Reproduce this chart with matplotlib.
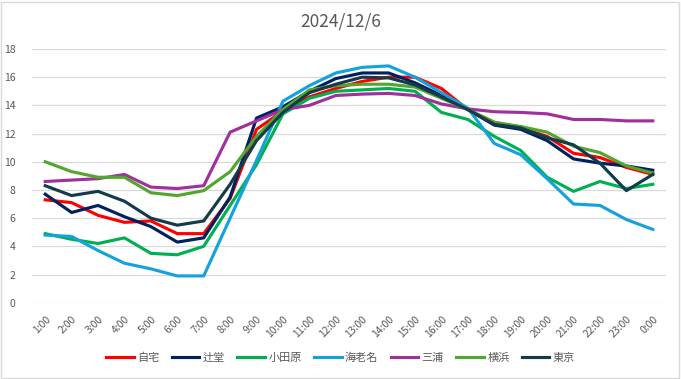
import matplotlib
matplotlib.use("Agg")
import matplotlib.pyplot as plt
from matplotlib.patches import Rectangle

plt.rcParams['font.family'] = ['Noto Sans CJK JP', 'DejaVu Sans']

hours = ["1:00", "2:00", "3:00", "4:00", "5:00", "6:00", "7:00", "8:00",
         "9:00", "10:00", "11:00", "12:00", "13:00", "14:00", "15:00", "16:00",
         "17:00", "18:00", "19:00", "20:00", "21:00", "22:00", "23:00", "0:00"]

jitaku = [7.3, 7.1, 6.2, 5.7, 5.8, 4.9, 4.9, 7.4, 12.3, 13.6, 14.6, 15.2,
          15.7, 16.0, 16.0, 15.2, 13.7, 12.8, 12.4, 11.8, 10.6, 10.3, 9.6, 9.1]
tsujido = [7.7, 6.4, 6.9, 6.1, 5.4, 4.3, 4.6, 7.5, 13.1, 13.9, 15.0, 15.9,
           16.3, 16.3, 15.6, 14.7, 13.7, 12.6, 12.3, 11.5, 10.2, 9.9, 9.7, 9.4]
odawara = [4.9, 4.5, 4.2, 4.6, 3.5, 3.4, 4.0, 6.9, 9.8, 13.4, 14.5, 15.0,
           15.1, 15.2, 15.0, 13.5, 13.0, 11.8, 10.8, 8.9, 7.9, 8.6, 8.1, 8.4]
ebina = [4.8, 4.7, 3.7, 2.8, 2.4, 1.9, 1.9, 6.0, 10.1, 14.3, 15.4, 16.3,
         16.7, 16.8, 16.0, 14.9, 13.8, 11.3, 10.5, 8.8, 7.0, 6.9, 5.9, 5.2]
miura = [8.6, 8.7, 8.8, 9.1, 8.2, 8.1, 8.3, 12.1, 12.9, 13.7, 14.0, 14.7,
         14.8, 14.85, 14.7, 14.1, 13.75, 13.55, 13.5, 13.4, 13.0, 13.0, 12.9, 12.9]
yokohama = [10.0, 9.3, 8.9, 8.9, 7.8, 7.6, 7.95, 9.3, 11.8, 13.7, 15.1, 15.4,
            15.5, 15.5, 15.3, 14.5, 13.7, 12.8, 12.5, 12.1, 11.1, 10.65, 9.7, 9.2]
tokyo = [8.3, 7.6, 7.9, 7.2, 6.0, 5.5, 5.8, 8.4, 11.5, 13.5, 14.9, 15.5,
         16.0, 15.95, 15.45, 14.6, 13.7, 12.65, 12.4, 11.7, 11.2, 9.9, 7.95, 9.1]

names = ["自宅", "辻堂", "小田原", "海老名", "三浦", "横浜", "東京"]
series = [jitaku, tsujido, odawara, ebina, miura, yokohama, tokyo]
colors = ["#FF0000", "#002060", "#00B050", "#14A2DC", "#A0309C", "#52A52E", "#143B4C"]

fig = plt.figure(figsize=(6.81, 3.79), dpi=100)
ax = fig.add_axes([32 / 681, 1 - 302.7 / 379, 634 / 681, (302.7 - 49) / 379])

x = list(range(len(hours)))
for name, vals, c in zip(names, series, colors):
    ax.plot(x, vals, color=c, lw=2.25, label=name, solid_joinstyle='round')

ax.set_xlim(-0.5, len(hours) - 0.5)
ax.set_ylim(0, 18)
ax.set_yticks(range(0, 19, 2))
ax.set_xticks(x)
ax.set_xticklabels(hours, rotation=45, ha='right', rotation_mode='anchor')
ax.tick_params(length=0, labelsize=7.5, labelcolor='#595959')
ax.tick_params(axis='y', pad=12)
ax.tick_params(axis='x', pad=8)
ax.grid(axis='y', color='#d9d9d9', lw=0.9)
ax.set_axisbelow(True)
for s in ax.spines.values():
    s.set_visible(False)

fig.text(0.5, 1 - 22 / 379, "2024/12/6", ha='center', va='center',
         fontsize=12.5, color='#595959')

fig.legend(loc='center', bbox_to_anchor=(0.5, 1 - 358 / 379), ncol=7,
           frameon=False, fontsize=8, handlelength=2.5, columnspacing=1.1,
           handletextpad=0.3, labelcolor='#595959')

fig.patches.append(Rectangle((0.002, 0.003), 0.995, 0.993, transform=fig.transFigure,
                             fill=False, edgecolor='#d9d9d9', lw=1))

fig.savefig("out.png", dpi=100)
